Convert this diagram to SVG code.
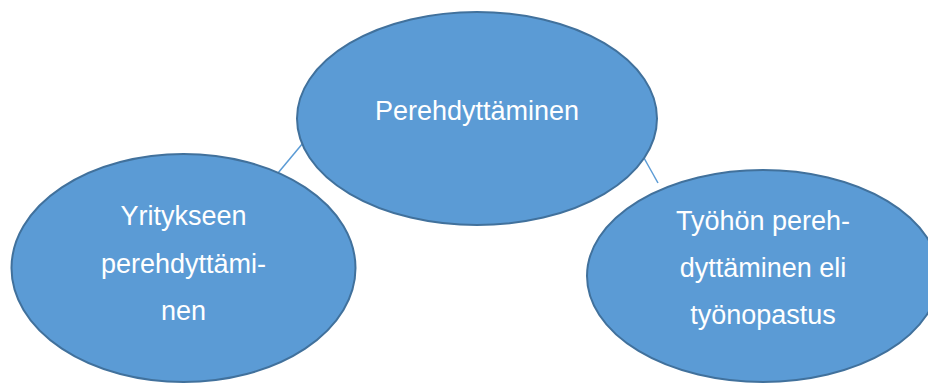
<svg xmlns="http://www.w3.org/2000/svg" width="928" height="383" viewBox="0 0 928 383">
<style>
.node{fill:#5B9BD5;stroke:#41719C;stroke-width:2}
.lbl{fill:#FFFFFF;font-family:"Liberation Sans",Arial,sans-serif;font-size:27px;text-anchor:middle}
.conn{stroke:#5B9BD5;stroke-width:1.5;fill:none}
</style>
<rect width="928" height="383" fill="#FFFFFF"/>
<g id="connectors">
<line class="conn" x1="278" y1="173" x2="303" y2="143"/>
<line class="conn" x1="644" y1="158" x2="658" y2="183"/>
</g>
<g id="node-left">
<ellipse class="node" cx="183.5" cy="268" rx="172" ry="114"/>
<text class="lbl" x="183.5" y="225">Yritykseen</text>
<text class="lbl" x="183.5" y="273">perehdyttämi-</text>
<text class="lbl" x="183.5" y="320">nen</text>
</g>
<g id="node-right">
<ellipse class="node" cx="763" cy="276" rx="176" ry="106"/>
<text class="lbl" x="763" y="230">Työhön pereh-</text>
<text class="lbl" x="763" y="277">dyttäminen eli</text>
<text class="lbl" x="763" y="324">työnopastus</text>
</g>
<g id="node-center">
<ellipse class="node" cx="477" cy="118.5" rx="180" ry="106.5"/>
<text class="lbl" x="477" y="120">Perehdyttäminen</text>
</g>
</svg>
